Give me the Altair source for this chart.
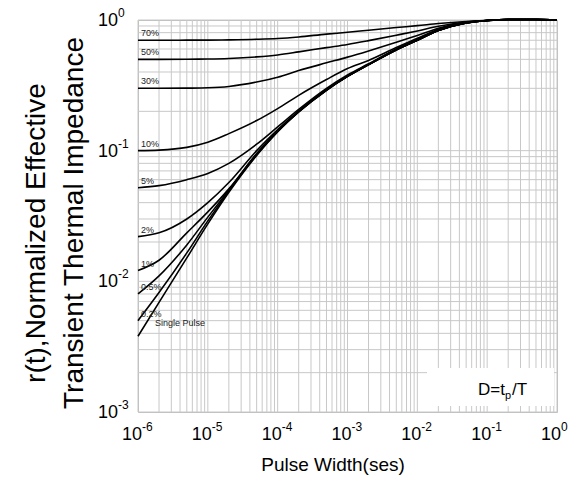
import altair as alt
import pandas as pd

# ---- data ----
pulse_width = [1e-6, 2e-6, 5e-6, 1e-5, 2e-5, 5e-5, 1e-4, 2e-4, 5e-4, 1e-3,
               2e-3, 5e-3, 1e-2, 2e-2, 5e-2, 0.1, 0.2, 0.5, 1.0]

d70 = [0.70, 0.70, 0.701, 0.702, 0.705, 0.712, 0.722, 0.742, 0.78, 0.805,
       0.835, 0.875, 0.905, 0.94, 0.975, 0.993, 1.008, 1.008, 1.0]
d50 = [0.50, 0.50, 0.501, 0.503, 0.508, 0.522, 0.54, 0.57, 0.615, 0.65,
       0.695, 0.765, 0.825, 0.895, 0.965, 0.99, 1.008, 1.008, 1.0]
d30 = [0.30, 0.30, 0.301, 0.303, 0.31, 0.335, 0.365, 0.41, 0.47, 0.52,
       0.58, 0.675, 0.76, 0.865, 0.96, 0.99, 1.008, 1.008, 1.0]
d10 = [0.10, 0.101, 0.106, 0.116, 0.135, 0.170, 0.210, 0.265, 0.35, 0.425,
       0.49, 0.615, 0.725, 0.85, 0.955, 0.99, 1.008, 1.008, 1.0]
d5 = [0.052, 0.054, 0.06, 0.067, 0.08, 0.112, 0.152, 0.207, 0.30, 0.38,
      0.462, 0.60, 0.71, 0.84, 0.95, 0.99, 1.008, 1.008, 1.0]
d2 = [0.022, 0.0235, 0.030, 0.040, 0.057, 0.100, 0.145, 0.201, 0.293, 0.372,
      0.457, 0.594, 0.704, 0.834, 0.95, 0.99, 1.008, 1.008, 1.0]
d1 = [0.0121, 0.0145, 0.0235, 0.034, 0.051, 0.095, 0.142, 0.200, 0.292, 0.371,
      0.456, 0.592, 0.702, 0.832, 0.95, 0.99, 1.008, 1.008, 1.0]
d05 = [0.0080, 0.011, 0.019, 0.031, 0.050, 0.094, 0.141, 0.199, 0.291, 0.371,
       0.456, 0.591, 0.701, 0.831, 0.95, 0.99, 1.008, 1.008, 1.0]
d02 = [0.0050, 0.0082, 0.0165, 0.029, 0.049, 0.093, 0.140, 0.198, 0.290, 0.370,
       0.455, 0.590, 0.700, 0.830, 0.95, 0.99, 1.008, 1.008, 1.0]
single = [0.0038, 0.0069, 0.0151, 0.0275, 0.048, 0.092, 0.140, 0.198, 0.290, 0.370,
          0.455, 0.590, 0.700, 0.830, 0.95, 0.99, 1.008, 1.008, 1.0]

series_names = ["70%", "50%", "30%", "10%", "5%", "2%", "1%", "0.5%", "0.2%", "Single Pulse"]
series_values = [d70, d50, d30, d10, d5, d2, d1, d05, d02, single]

x_tick_values = [1e-6, 1e-5, 1e-4, 1e-3, 1e-2, 1e-1, 1.0]
x_tick_exps = ["-6", "-5", "-4", "-3", "-2", "-1", "0"]
y_tick_values = [1.0, 0.1, 0.01, 0.001]
y_tick_exps = ["0", "-1", "-2", "-3"]

x_title = "Pulse Width(ses)"
y_title = ["r(t),Normalized Effective", "Transient Thermal Impedance"]

# ---- build tables ----
rows = []
for name, vals in zip(series_names, series_values):
    for t, r in zip(pulse_width, vals):
        rows.append({"series": name, "t": t, "r": r})
df = pd.DataFrame(rows)

labels_df = pd.DataFrame({
    "series": series_names[:-1],
    "t": [pulse_width[0]] * (len(series_names) - 1),
    "r": [v[0] for v in series_values[:-1]],
})
single_df = pd.DataFrame({"series": [series_names[-1]], "t": [pulse_width[0]], "r": [single[0]]})

xt = pd.DataFrame({"t": x_tick_values, "base": ["10"] * len(x_tick_values), "exp": x_tick_exps})
yt = pd.DataFrame({"r": y_tick_values, "base": ["10"] * len(y_tick_values), "exp": y_tick_exps})

W, H = 419, 392
FONT = "Liberation Sans"
GRID = "#c8c8c8"

grid_x = [m * 10.0 ** e for e in range(-6, 0) for m in range(1, 10)] + [1.0]
grid_y = [m * 10.0 ** e for e in range(-3, 0) for m in range(1, 10)] + [1.0]

xscale = alt.Scale(type="log", domain=[1e-6, 1.0])
yscale = alt.Scale(type="log", domain=[1e-3, 1.0])

gx = alt.Chart(pd.DataFrame({"t": grid_x})).mark_rule(color=GRID, strokeWidth=1).encode(
    x=alt.X("t:Q", scale=xscale, axis=None))
gy = alt.Chart(pd.DataFrame({"r": grid_y})).mark_rule(color=GRID, strokeWidth=1).encode(
    y=alt.Y("r:Q", scale=yscale, axis=None))

lines = alt.Chart(df).mark_line(color="black", strokeWidth=1.6, interpolate="monotone").encode(
    x=alt.X("t:Q", scale=xscale, axis=None),
    y=alt.Y("r:Q", scale=yscale, axis=None),
    detail="series:N",
)

curve_labels = alt.Chart(labels_df).mark_text(
    align="left", baseline="middle", dy=-7, fontSize=9, font=FONT, color="#222222"
).encode(
    x=alt.value(3),
    y=alt.Y("r:Q", scale=yscale, axis=None),
    text="series:N",
)

single_label = alt.Chart(single_df).mark_text(
    align="left", baseline="middle", dy=-13, fontSize=9, font=FONT, color="#222222"
).encode(
    x=alt.value(17),
    y=alt.Y("r:Q", scale=yscale, axis=None),
    text="series:N",
)

x_base = alt.Chart(xt).mark_text(align="right", baseline="middle", dx=4, fontSize=18,
                                 font=FONT, color="black").encode(
    x=alt.X("t:Q", scale=xscale, axis=None), y=alt.value(H + 23), text="base:N")
x_exp = alt.Chart(xt).mark_text(align="left", baseline="middle", dx=4, fontSize=12,
                                font=FONT, color="black").encode(
    x=alt.X("t:Q", scale=xscale, axis=None), y=alt.value(H + 15), text="exp:N")

y_base = alt.Chart(yt).mark_text(align="right", baseline="middle", dy=1, fontSize=18,
                                 font=FONT, color="black").encode(
    y=alt.Y("r:Q", scale=yscale, axis=None), x=alt.value(-20), text="base:N")
y_exp = alt.Chart(yt).mark_text(align="left", baseline="middle", dy=-7, fontSize=12,
                                font=FONT, color="black").encode(
    y=alt.Y("r:Q", scale=yscale, axis=None), x=alt.value(-20), text="exp:N")

xtitle = alt.Chart(pd.DataFrame({"txt": [x_title]})).mark_text(
    align="center", baseline="middle", fontSize=19, font=FONT, color="black"
).encode(x=alt.value(195), y=alt.value(H + 53), text="txt:N")

yt1 = alt.Chart(pd.DataFrame({"txt": [y_title[0]]})).mark_text(
    align="center", baseline="middle", angle=270, fontSize=28, font=FONT, color="black"
).encode(x=alt.value(-101), y=alt.value(213), text="txt:N")
yt2 = alt.Chart(pd.DataFrame({"txt": [y_title[1]]})).mark_text(
    align="center", baseline="middle", angle=270, fontSize=28, font=FONT, color="black"
).encode(x=alt.value(-63), y=alt.value(203), text="txt:N")

# legend-like box for D = tp/T
box = alt.Chart(pd.DataFrame({"k": [0]})).mark_rect(color="white").encode(
    x=alt.value(289), x2=alt.value(416), y=alt.value(348), y2=alt.value(386))
d_main = alt.Chart(pd.DataFrame({"txt": ["D=t"]})).mark_text(
    align="right", baseline="alphabetic", fontSize=17, font=FONT, color="black"
).encode(x=alt.value(367), y=alt.value(375), text="txt:N")
d_sub = alt.Chart(pd.DataFrame({"txt": ["p"]})).mark_text(
    align="left", baseline="alphabetic", fontSize=11, font=FONT, color="black"
).encode(x=alt.value(367), y=alt.value(379), text="txt:N")
d_end = alt.Chart(pd.DataFrame({"txt": ["/T"]})).mark_text(
    align="left", baseline="alphabetic", fontSize=17, font=FONT, color="black"
).encode(x=alt.value(374), y=alt.value(375), text="txt:N")

chart = alt.layer(
    gx, gy, box, lines, d_main, d_sub, d_end, curve_labels, single_label,
    x_base, x_exp, y_base, y_exp, xtitle, yt1, yt2,
).properties(
    width=W, height=H,
    padding={"left": 138, "top": 20, "right": 23, "bottom": 68},
    autosize=alt.AutoSizeParams(type="none"),
    background="white",
).configure_view(
    stroke="#bdbdbd", strokeWidth=1,
)

chart.save("out.html", embed_options={"renderer": "svg", "actions": False})
